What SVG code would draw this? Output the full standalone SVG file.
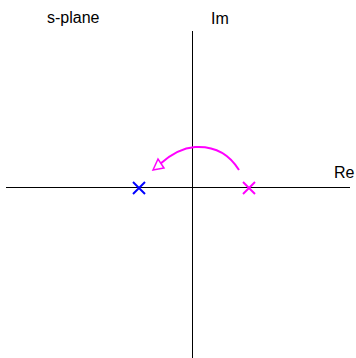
<svg xmlns="http://www.w3.org/2000/svg" width="356" height="358" viewBox="0 0 356 358">
<style>
.axis{stroke:#000;stroke-width:1;fill:none}
.lbl{font-family:"Liberation Sans",Arial,sans-serif;font-size:16px;fill:#000}
.pole{stroke-width:2;fill:none}
</style>
<rect width="356" height="358" fill="#fff"/>
<g id="axes">
<line class="axis" x1="6" y1="187.5" x2="350" y2="187.5"/>
<line class="axis" x1="192.5" y1="31" x2="192.5" y2="358"/>
</g>
<text class="lbl" x="47" y="23">s-plane</text>
<text class="lbl" x="211" y="24">Im</text>
<text class="lbl" x="334" y="178">Re</text>
<g id="pole-blue" class="pole" stroke="#0000ff">
<line x1="133" y1="182" x2="145" y2="194"/>
<line x1="145" y1="182" x2="133" y2="194"/>
</g>
<g id="pole-magenta" class="pole" stroke="#ff00ff">
<line x1="243" y1="182" x2="255" y2="194"/>
<line x1="255" y1="182" x2="243" y2="194"/>
</g>
<g id="connectors">
<path d="M239,170 C228,152 212,146 195,147 C182,148 170,155 160,164" stroke="#ff00ff" stroke-width="2" fill="none"/>
<polygon points="153,170 158,159 164,168" stroke="#ff00ff" stroke-width="1.5" fill="#fff"/>
</g>
</svg>
